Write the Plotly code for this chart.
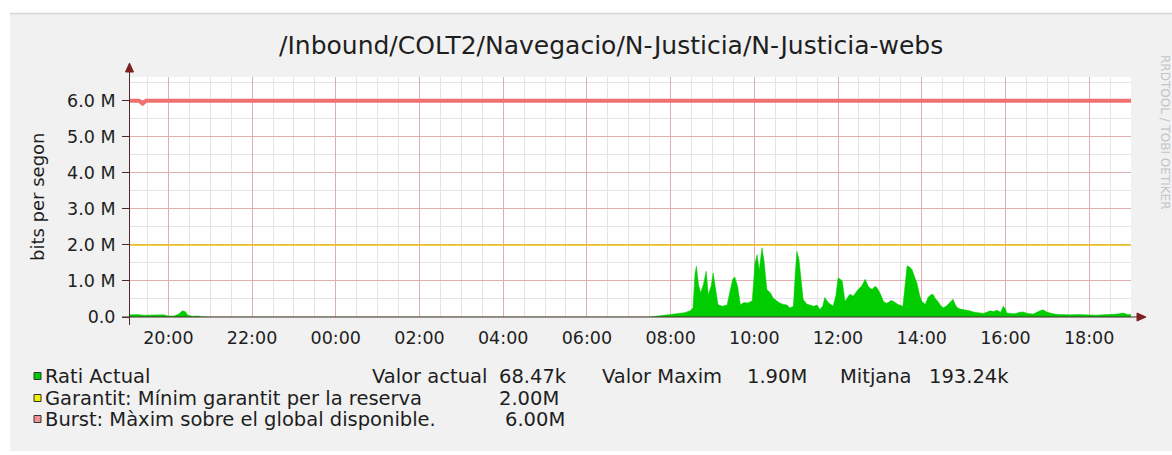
import plotly.graph_objects as go
from datetime import datetime, timedelta

# ---------------- data ----------------
rate_times = [
    "19:05", "19:15", "19:25", "19:35", "19:45", "19:53", "20:00", "20:08", "20:15", "20:20",
    "20:24", "20:28", "20:35", "20:42", "20:48", "20:52", "21:00", "07:30", "07:40", "07:50",
    "08:00", "08:10", "08:20", "08:28", "08:32", "08:35", "08:37", "08:40", "08:43", "08:47",
    "08:51", "08:54", "08:58", "09:01", "09:05", "09:08", "09:14", "09:21", "09:25", "09:29",
    "09:32", "09:36", "09:40", "09:45", "09:51", "09:57", "10:01", "10:04", "10:07", "10:11",
    "10:14", "10:18", "10:23", "10:27", "10:32", "10:37", "10:42", "10:47", "10:51", "10:56",
    "10:59", "11:01", "11:04", "11:07", "11:10", "11:15", "11:20", "11:25", "11:30", "11:34",
    "11:38", "11:41", "11:46", "11:53", "11:57", "12:00", "12:03", "12:06", "12:10", "12:14",
    "12:17", "12:22", "12:26", "12:29", "12:34", "12:39", "12:43", "12:46", "12:49", "12:53",
    "12:56", "13:01", "13:05", "13:09", "13:12", "13:16", "13:19", "13:26", "13:33", "13:36",
    "13:39", "13:43", "13:46", "13:50", "13:53", "13:57", "14:00", "14:05", "14:09", "14:13",
    "14:16", "14:20", "14:23", "14:28", "14:31", "14:35", "14:38", "14:42", "14:45", "14:48",
    "14:51", "14:55", "14:59", "15:05", "15:09", "15:14", "15:19", "15:24", "15:28", "15:33",
    "15:38", "15:43", "15:48", "15:53", "15:57", "16:00", "16:02", "16:08", "16:14", "16:20",
    "16:25", "16:32", "16:40", "16:47", "16:54", "17:00", "17:04", "17:10", "17:18", "17:25",
    "17:33", "17:45", "17:55", "18:01", "18:10", "18:20", "18:30", "18:40", "18:49", "18:55",
    "19:00",
]
rate_values_M = [
    0.06, 0.07, 0.05, 0.06, 0.05, 0.06, 0.03, 0.03, 0.08, 0.17,
    0.15, 0.05, 0.02, 0.03, 0.01, 0.00, 0.00, 0.00, 0.02, 0.04,
    0.06, 0.09, 0.12, 0.17, 0.25, 1.20, 1.41, 0.90, 0.67, 0.90,
    1.27, 0.62, 0.85, 1.22, 0.70, 0.34, 0.30, 0.33, 0.70, 1.05,
    1.11, 0.85, 0.34, 0.40, 0.39, 0.45, 1.50, 1.73, 1.30, 1.92,
    1.55, 0.76, 0.67, 0.53, 0.45, 0.38, 0.35, 0.33, 0.25, 0.30,
    1.30, 1.82, 1.60, 1.10, 0.49, 0.36, 0.33, 0.30, 0.33, 0.21,
    0.30, 0.54, 0.40, 0.30, 0.60, 1.09, 1.05, 1.00, 0.44, 0.55,
    0.63, 0.58, 0.70, 0.77, 0.86, 1.05, 0.86, 0.80, 0.77, 0.85,
    0.81, 0.63, 0.44, 0.38, 0.40, 0.46, 0.44, 0.35, 0.30, 0.80,
    1.42, 1.38, 1.32, 1.10, 0.95, 0.60, 0.44, 0.35, 0.54, 0.62,
    0.63, 0.50, 0.44, 0.30, 0.26, 0.30, 0.35, 0.43, 0.49, 0.35,
    0.26, 0.22, 0.21, 0.18, 0.17, 0.14, 0.12, 0.11, 0.10, 0.13,
    0.17, 0.15, 0.19, 0.13, 0.30, 0.22, 0.11, 0.10, 0.09, 0.13,
    0.14, 0.10, 0.08, 0.15, 0.20, 0.13, 0.11, 0.08, 0.07, 0.06,
    0.06, 0.07, 0.06, 0.07, 0.05, 0.06, 0.07, 0.08, 0.11, 0.07,
    0.07,
]
garantit_times = ["19:05", "19:00"]
garantit_values_M = [2.0, 2.0]
burst_times = ["19:05", "19:18", "19:23", "19:28", "19:00"]
burst_values_M = [6.0, 6.0, 5.92, 6.0, 6.0]

y_tick_values_M = [0, 1, 2, 3, 4, 5, 6]
y_tick_labels = ["0.0", "1.0 M", "2.0 M", "3.0 M", "4.0 M", "5.0 M", "6.0 M"]
y_minor_values_M = [0.5, 1.5, 2.5, 3.5, 4.5, 5.5, 6.5]

title_text = "/Inbound/COLT2/Navegacio/N-Justicia/N-Justicia-webs"
y_title = "bits per segon"
legend_rows = [
    ["Rati Actual", "Valor actual", "68.47k", "Valor Maxim", "1.90M", "Mitjana", "193.24k"],
    ["Garantit: Mínim garantit per la reserva", "2.00M"],
    ["Burst: Màxim sobre el global disponible.", "6.00M"],
]
watermark = "RRDTOOL / TOBI OETIKER"

# ---------------- helpers ----------------
DAY0 = datetime(2000, 1, 1)


def to_datetimes(hhmm_list):
    out, day, prev = [], 0, None
    for s in hhmm_list:
        h, m = map(int, s.split(":"))
        mins = h * 60 + m
        if prev is not None and mins < prev:
            day += 1
        prev = mins
        out.append(DAY0 + timedelta(days=day, minutes=mins))
    return out


W, H = 1172, 455
L, R, T, B = 130, 1131, 77, 317          # plot area in pixels
PW, PH = R - L, B - T


def px(x):
    return (x - L) / PW


def py(y):
    return (B - y) / PH


FONT = "DejaVu Sans, Verdana, sans-serif"
TXT = "#1e1e1e"
GREEN = "#00cc00"
YELLOW = "#e8c010"
RED = "#f07070"
AXIS = "#4a2a2a"

fig = go.Figure()
fig.add_trace(go.Scatter(
    x=to_datetimes(rate_times), y=[v * 1e6 for v in rate_values_M],
    mode="lines", fill="tozeroy", fillcolor=GREEN,
    line=dict(color=GREEN, width=0.5), hoverinfo="skip", showlegend=False))
fig.add_trace(go.Scatter(
    x=to_datetimes(garantit_times), y=[v * 1e6 for v in garantit_values_M],
    mode="lines", line=dict(color=YELLOW, width=1.5), hoverinfo="skip", showlegend=False))
fig.add_trace(go.Scatter(
    x=to_datetimes(burst_times), y=[v * 1e6 for v in burst_values_M],
    mode="lines", line=dict(color=RED, width=4), hoverinfo="skip", showlegend=False))

x_start = DAY0 + timedelta(hours=19, minutes=5)
x_end = DAY0 + timedelta(days=1, hours=19, minutes=0)

fig.update_xaxes(
    type="date", range=[x_start, x_end], tickformat="%H:%M",
    tick0=DAY0 + timedelta(hours=20), dtick=2 * 3600 * 1000,
    showgrid=True, gridcolor="#e0b0b0", gridwidth=1,
    minor=dict(dtick=30 * 60 * 1000, tick0=DAY0 + timedelta(hours=20),
               showgrid=True, gridcolor="#eee0e0", gridwidth=1),
    showline=False, zeroline=False, ticks="",
    tickfont=dict(family=FONT, size=17.5, color=TXT),
    ticklabelstandoff=8, fixedrange=True)
fig.update_yaxes(
    range=[0, (B - T) / 36.05 * 1e6],
    tickmode="array", tickvals=[v * 1e6 for v in y_tick_values_M], ticktext=y_tick_labels,
    showgrid=True, gridcolor="#e0b0b0", gridwidth=1,
    minor=dict(tickvals=[v * 1e6 for v in y_minor_values_M], showgrid=True,
               gridcolor="#e6e2ee", gridwidth=1),
    showline=False, zeroline=False, ticks="outside", ticklen=7, tickcolor=AXIS,
    tickfont=dict(family=FONT, size=17.5, color=TXT),
    ticklabelstandoff=3, fixedrange=True)

shapes = [
    # white page border above / left / below the grey panel
    dict(type="rect", xref="paper", yref="paper", x0=px(0), x1=px(W), y0=py(0), y1=py(13),
         fillcolor="white", line=dict(width=0), layer="below"),
    dict(type="rect", xref="paper", yref="paper", x0=px(0), x1=px(10), y0=py(H), y1=py(0),
         fillcolor="white", line=dict(width=0), layer="below"),
    dict(type="rect", xref="paper", yref="paper", x0=px(0), x1=px(W), y0=py(H), y1=py(451),
         fillcolor="white", line=dict(width=0), layer="below"),
    dict(type="line", xref="paper", yref="paper", x0=px(10), x1=px(W), y0=py(13.5), y1=py(13.5),
         line=dict(color="#d6d6d6", width=1.5), layer="below"),
    # axes
    dict(type="line", xref="paper", yref="paper", x0=px(122), x1=px(1140), y0=0, y1=0,
         line=dict(color=AXIS, width=1)),
    dict(type="line", xref="paper", yref="paper", x0=px(129.5), x1=px(129.5), y0=py(325), y1=py(70),
         line=dict(color=AXIS, width=1)),
    # arrow heads
    dict(type="path", xref="paper", yref="paper",
         path=f"M {px(125.5)} {py(72)} L {px(129.5)} {py(63)} L {px(133.5)} {py(72)} Z",
         fillcolor="#7a2020", line=dict(color="#7a2020", width=1)),
    dict(type="path", xref="paper", yref="paper",
         path=f"M {px(1137)} {py(313)} L {px(1146)} {py(317)} L {px(1137)} {py(321)} Z",
         fillcolor="#7a2020", line=dict(color="#7a2020", width=1)),
]

# legend boxes
box_colors = [GREEN, "#f0f000", "#f09090"]
row_y = [376, 398, 419]
for c, yy in zip(box_colors, row_y):
    shapes.append(dict(type="rect", xref="paper", yref="paper",
                       x0=px(34), x1=px(41), y0=py(yy + 3.5), y1=py(yy - 3.5),
                       fillcolor=c, line=dict(color="#333333", width=1)))

annotations = [
    dict(text=title_text, x=px(277), y=py(45), xref="paper", yref="paper",
         showarrow=False, xanchor="left", yanchor="middle",
         font=dict(family=FONT, size=25, color=TXT)),
    dict(text=y_title, x=px(37), y=py(197), xref="paper", yref="paper", textangle=-90,
         showarrow=False, xanchor="center", yanchor="middle",
         font=dict(family=FONT, size=18, color=TXT)),
    dict(text=watermark, x=px(1165), y=py(132), xref="paper", yref="paper", textangle=90,
         showarrow=False, xanchor="center", yanchor="middle",
         font=dict(family=FONT, size=12, color="#c4c4c4")),
]
legend_x = [
    [43, 370, 497, 600, 745, 838, 927],
    [43, 497],
    [43, 503],
]
for texts, xs, yy in zip(legend_rows, legend_x, row_y):
    for t, xx in zip(texts, xs):
        annotations.append(dict(text=t, x=px(xx), y=py(yy), xref="paper", yref="paper",
                                showarrow=False, xanchor="left", yanchor="middle",
                                font=dict(family=FONT, size=19.5, color=TXT)))

fig.update_layout(
    width=W, height=H,
    margin=dict(l=L, r=W - R, t=T, b=H - B, pad=0),
    paper_bgcolor="#f1f1f1", plot_bgcolor="white",
    shapes=shapes, annotations=annotations, showlegend=False)

fig.write_html("out.html", config={"displayModeBar": False},
               post_script="document.body.style.margin='0px';"
                           "document.body.style.overflow='hidden';")
